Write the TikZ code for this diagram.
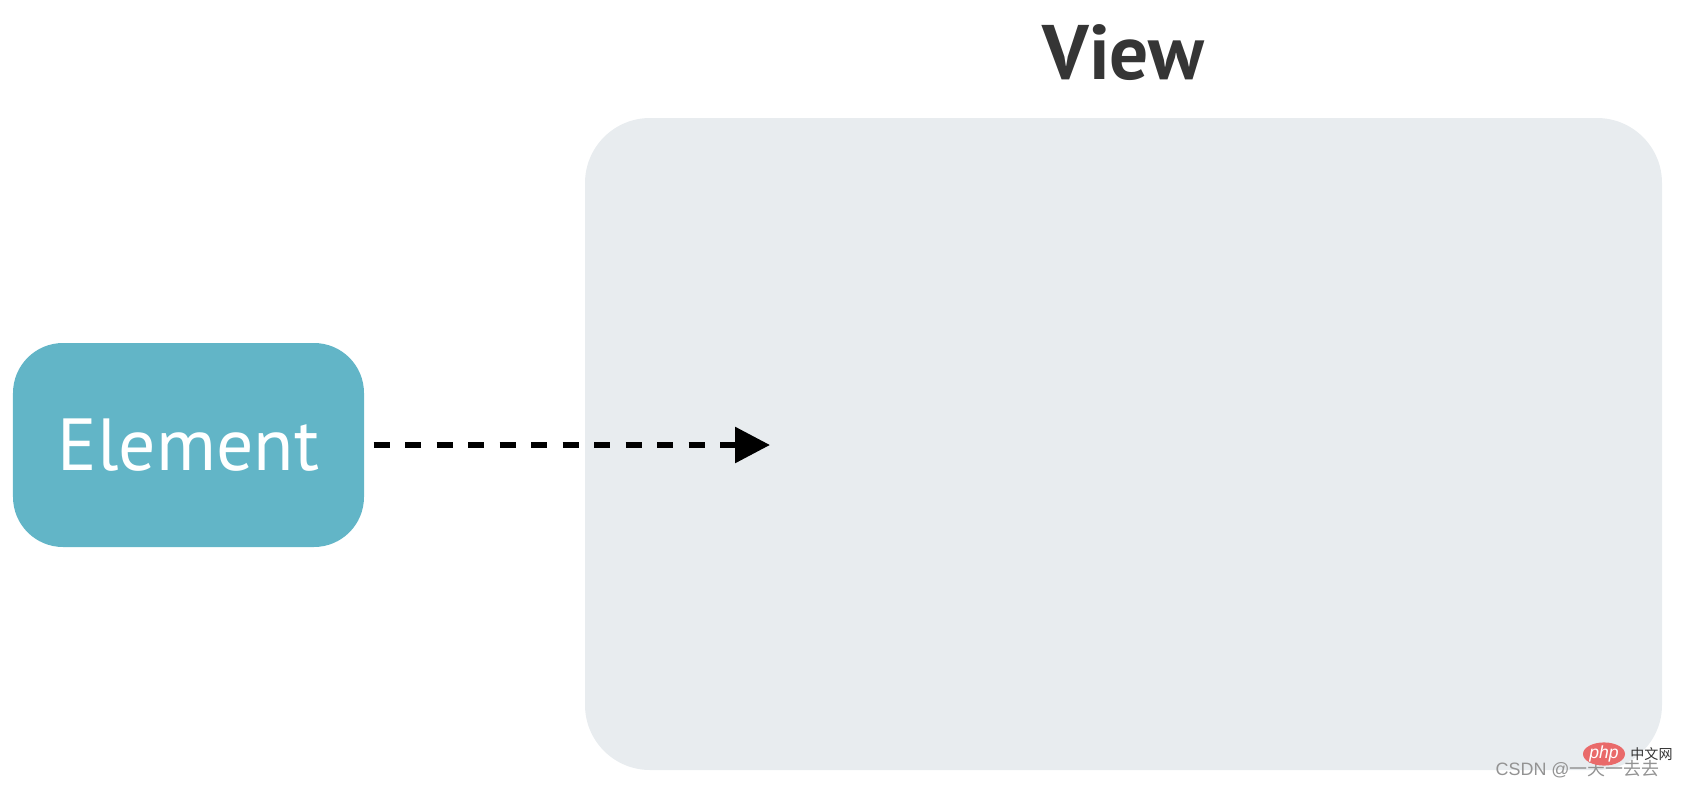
\documentclass[tikz,border=0pt]{standalone}
\usepackage{fontspec}
\setmainfont{PT Sans}
\newfontfamily\wmfont{Liberation Sans}
\newfontfamily\cjk{Noto Sans CJK SC}
\usepackage{tikz}
\usetikzlibrary{shapes,positioning,arrows.meta}

\definecolor{elemblue}{HTML}{62B5C7}
\definecolor{viewgrey}{HTML}{E8ECEF}
\definecolor{titlegrey}{HTML}{353535}
\definecolor{phpred}{HTML}{E96A6A}

\begin{document}
\begin{tikzpicture}
\useasboundingbox (0,0) rectangle (16.82,7.87);

% View panel
\node[fill=viewgrey,
    rounded corners=0.65cm,
    minimum width=10.77cm,
    minimum height=6.52cm] (view) at (11.235,3.43) {};

% View title
\node[above=0.36cm of view,
    inner sep=0,
    text=titlegrey,
    font=\fontsize{22pt}{24pt}\selectfont\bfseries] (viewtitle) {View};

% Element block
\node[fill=elemblue,
    rounded corners=0.5cm,
    minimum width=3.51cm,
    minimum height=2.04cm,
    text=white,
    font=\fontsize{21pt}{23pt}\selectfont] (element) at (1.885,3.42) {Element};

% Arrow target
\coordinate (target) at (7.70,3.42);

% Arrow
\draw[line width=1.7pt,
    dash pattern=on 0.16cm off 0.155cm,
    shorten <=0.09cm,
    -{Triangle[length=0.35cm,width=0.35cm]}] (element.east) -- (target);

% Watermark
\node[anchor=base west,
    inner sep=0,
    text=gray!85,
    font=\fontsize{5.1pt}{6pt}\selectfont] (csdn) at (14.95,0.12) {\wmfont CSDN @\cjk 一天一去去};
\node[ellipse,
    fill=phpred,
    minimum width=0.42cm,
    minimum height=0.18cm,
    inner sep=0,
    text=white,
    font=\fontsize{5pt}{6pt}\selectfont\itshape] (php) at (16.04,0.33) {\wmfont php};
\node[right=0.04cm of php,
    inner sep=0,
    text=black!80,
    font=\fontsize{4pt}{5pt}\selectfont] (phpcn) {\cjk 中文网};

\end{tikzpicture}
\end{document}
